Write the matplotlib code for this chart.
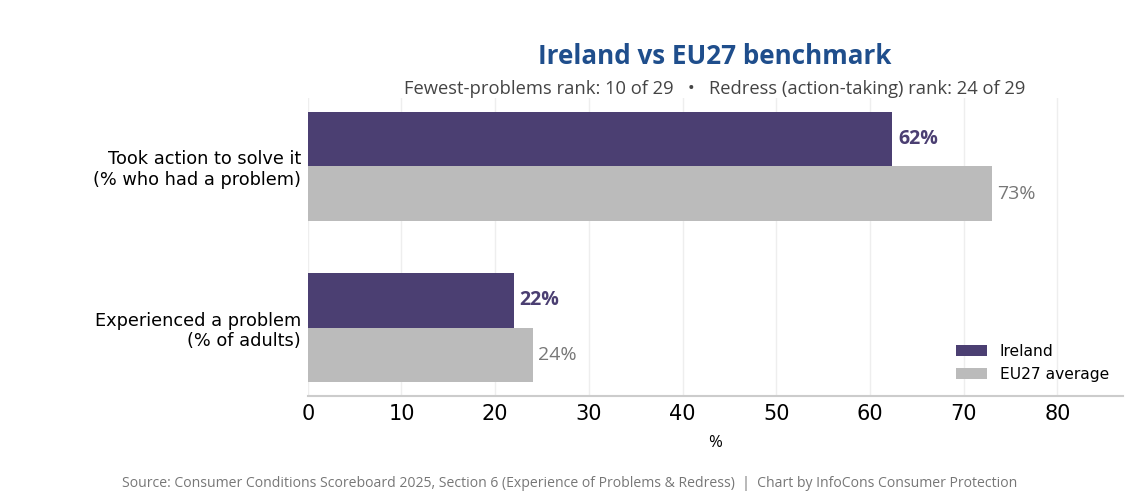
import numpy as np
import matplotlib.pyplot as plt

categories = ["Experienced a problem\n(% of adults)", "Took action to solve it\n(% who had a problem)"]
ireland = [22.0, 62.4]
eu27 = [24.0, 73.0]
xticks = [0, 10, 20, 30, 40, 50, 60, 70, 80]

ireland_color = "#4b3f72"
eu_color = "#bbbbbb"
narrow = "Open Sans"

fig = plt.figure(figsize=(11.4, 4.95), dpi=100)
ax = fig.add_axes([0.270, 0.2, 0.715, 0.602])

y = np.arange(len(categories))
h = 0.34
ax.barh(y + h / 2, ireland, height=h, color=ireland_color, label="Ireland", zorder=3)
ax.barh(y - h / 2, eu27, height=h, color=eu_color, label="EU27 average", zorder=3)

for yi, v in zip(y, ireland):
    ax.text(v + 0.6, yi + h / 2, f"{v:.0f}%", va="center", ha="left", fontsize=14,
            fontweight="bold", color=ireland_color, family=narrow)
for yi, v in zip(y, eu27):
    ax.text(v + 0.6, yi - h / 2, f"{v:.0f}%", va="center", ha="left", fontsize=14,
            color="#777777", family=narrow)

ax.set_yticks(y)
ax.set_yticklabels(categories, fontsize=12.8)
ax.set_xticks(xticks)
ax.tick_params(axis="x", labelsize=15, length=0, pad=6)
ax.tick_params(axis="y", length=0, pad=5)
ax.set_xlim(0, 87)
ax.set_xlabel("%", fontsize=12, family=narrow, labelpad=8)
ax.grid(axis="x", color="#eeeeee", linewidth=1, zorder=0)
for s in ["top", "right", "left"]:
    ax.spines[s].set_visible(False)
ax.spines["bottom"].set_color("#cccccc")
ax.spines["bottom"].set_linewidth(1.5)

ax.legend(loc="lower right", frameon=False, fontsize=11.2, handlelength=2.0)

fig.text(0.627, 0.886, "Ireland vs EU27 benchmark", ha="center", va="center",
         fontsize=18.7, fontweight="bold", color="#1f4e8c", family=narrow)
fig.text(0.627, 0.820, "Fewest-problems rank: 10 of 29   \u2022   Redress (action-taking) rank: 24 of 29",
         ha="center", va="center", fontsize=13.2, color="#444444", family=narrow)
fig.text(0.5, 0.024, "Source: Consumer Conditions Scoreboard 2025, Section 6 (Experience of Problems & Redress)  |  Chart by InfoCons Consumer Protection",
         ha="center", va="center", fontsize=10.1, color="#777777", family=narrow)

fig.savefig("out.png", dpi=100)
